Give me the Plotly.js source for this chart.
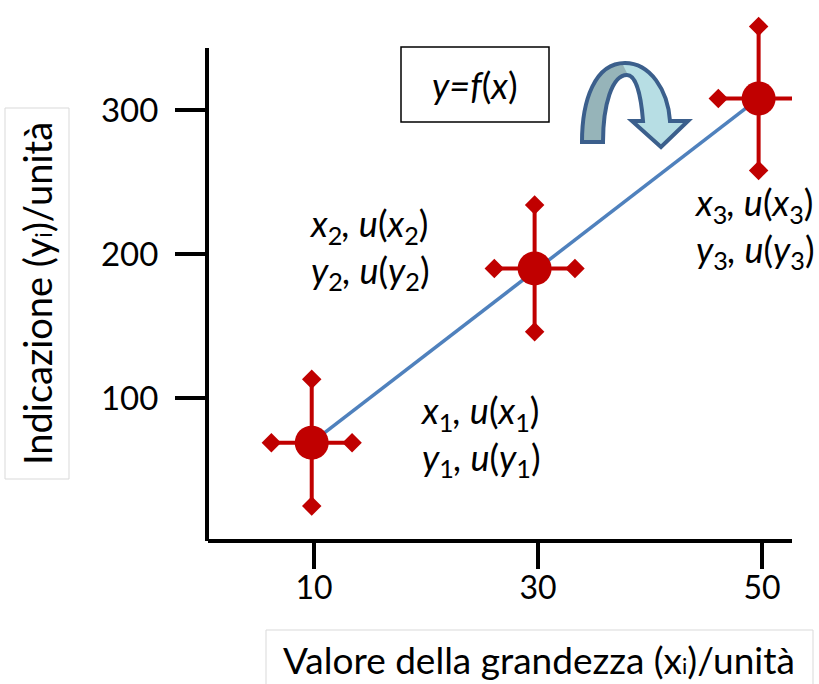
<!DOCTYPE html>
<html>
<head>
<meta charset="utf-8">
<script src="https://cdn.plot.ly/plotly-3.0.1.min.js"></script>
<style>
  html, body { margin: 0; padding: 0; background: #ffffff; }
  #chart { width: 819px; height: 684px; }
</style>
</head>
<body>
<div id="chart"></div>
<script>
// ---- data ----
const xValues = [9.8, 29.7, 49.7];        // x_i (valore della grandezza)
const yValues = [69, 190, 308];           // y_i (indicazione)
const uxValues = [3.6, 3.6, 3.6];         // u(x_i)
const uyValues = [44, 44, 50];            // u(y_i)
const xTickVals = [10, 30, 50];
const yTickVals = [100, 200, 300];
const pointLabels = [
  "<i>x</i><sub>1</sub><i>, u</i>(<i>x</i><sub>1</sub>)<br><i>y</i><sub>1</sub><i>, u</i>(<i>y</i><sub>1</sub>)",
  "<i>x</i><sub>2</sub><i>, u</i>(<i>x</i><sub>2</sub>)<br><i>y</i><sub>2</sub><i>, u</i>(<i>y</i><sub>2</sub>)",
  "<i>x</i><sub>3</sub><i>, u</i>(<i>x</i><sub>3</sub>)<br><i>y</i><sub>3</sub><i>, u</i>(<i>y</i><sub>3</sub>)"
];
const xTitle = "Valore della grandezza (x<span style=\"font-size:22px\">i</span>)/unità";
const yTitle = "Indicazione (y<span style=\"font-size:23px\">i</span>)/unità";
const funcLabel = "<i>y=f</i>(<i>x</i>)";

// ---- layout geometry ----
const W = 819, H = 684, ML = 208, MR = 27, MT = 8, MB = 145;
const PW = W - ML - MR, PH = H - MT - MB;
const px = v => (v - ML) / PW;           // pixel -> paper x
const py = v => (H - MB - v) / PH;       // pixel -> paper y
function pathFrom(cmds) {
  return cmds.map(c => {
    const l = c[0];
    const nums = [];
    for (let i = 1; i < c.length; i += 2) nums.push(px(c[i]).toFixed(5) + "," + py(c[i + 1]).toFixed(5));
    return l + nums.join(" ");
  }).join(" ");
}

const red = "#C00000";
const blue = "#4F81BD";
const fontFam = "Lato, 'Open Sans', sans-serif";

// fitted line drawn from first to last point
const lineTrace = {
  x: [xValues[0], xValues[xValues.length - 1]],
  y: [yValues[0], yValues[yValues.length - 1]],
  mode: "lines",
  line: { color: blue, width: 3.5 },
  hoverinfo: "skip",
  cliponaxis: false,
  showlegend: false
};

const pointTrace = {
  x: xValues,
  y: yValues,
  mode: "markers",
  marker: { color: red, size: 34 },
  error_x: { type: "data", array: uxValues, visible: true, color: red, thickness: 4, width: 0 },
  error_y: { type: "data", array: uyValues, visible: true, color: red, thickness: 4, width: 0 },
  cliponaxis: false,
  showlegend: false
};

const capX = [], capY = [];
xValues.forEach((x, i) => {
  capX.push(x - uxValues[i], x + uxValues[i], x, x);
  capY.push(yValues[i], yValues[i], yValues[i] - uyValues[i], yValues[i] + uyValues[i]);
});
const capTrace = {
  x: capX, y: capY, mode: "markers",
  marker: { symbol: "diamond", color: red, size: 15 },
  cliponaxis: false, hoverinfo: "skip", showlegend: false
};

// curved arrow (decoration)
const arrowOuter = pathFrom([
  ["M", 582, 142], ["C", 582, 100, 595, 63, 625, 63], ["C", 650, 63, 668, 90, 670, 121],
  ["L", 688, 121], ["L", 661, 147], ["L", 632, 121], ["L", 643, 121],
  ["C", 641, 95, 636, 75, 627, 75], ["C", 612, 75, 603, 105, 603, 142], ["Z"]
]);
const arrowLeft = pathFrom([
  ["M", 582, 142], ["C", 582, 100, 595, 63, 622, 63], ["L", 628, 75],
  ["C", 612, 75, 603, 105, 603, 142], ["Z"]
]);

// y scale: 1.44 px per unit, value 200 at pixel 254
const yTop = 200 + (254 - MT) / 1.44;
const yBottom = 200 - (H - MB - 254) / 1.44;

const layout = {
  width: W, height: H,
  margin: { l: ML, r: MR, t: MT, b: MB, pad: 0 },
  paper_bgcolor: "#ffffff",
  plot_bgcolor: "#ffffff",
  font: { family: fontFam, color: "#000000" },
  xaxis: {
    range: [0.54, 52.68],
    tickmode: "array", tickvals: xTickVals, ticktext: xTickVals.map(String),
    ticks: "outside", ticklen: 26, tickwidth: 4, tickcolor: "#000",
    ticklabelstandoff: -8,
    showline: true, linecolor: "#000", linewidth: 4,
    showgrid: false, zeroline: false,
    tickfont: { size: 32, family: fontFam, color: "#000" },
    fixedrange: true
  },
  yaxis: {
    range: [yBottom, yTop],
    tickmode: "array", tickvals: yTickVals, ticktext: yTickVals.map(String),
    ticks: "outside", ticklen: 32, tickwidth: 4, tickcolor: "#000",
    ticklabelstandoff: 10,
    showline: false,
    showgrid: false, zeroline: false,
    tickfont: { size: 33, family: fontFam, color: "#000" },
    fixedrange: true
  },
  shapes: [
    // y axis line (drawn as a shape so the plot area can extend above it)
    { type: "line", xref: "paper", yref: "paper", x0: px(207), x1: px(207), y0: py(541), y1: py(48),
      line: { color: "#000", width: 4 } },
    { type: "rect", xref: "paper", yref: "paper", x0: px(401), x1: px(549), y0: py(122), y1: py(47),
      line: { color: "#000", width: 1.5 }, fillcolor: "rgba(0,0,0,0)" },
    { type: "rect", xref: "paper", yref: "paper", x0: px(5), x1: px(69), y0: py(479), y1: py(108),
      line: { color: "#D9D9D9", width: 1 }, fillcolor: "rgba(0,0,0,0)" },
    { type: "rect", xref: "paper", yref: "paper", x0: px(266), x1: px(813), y0: py(700), y1: py(630),
      line: { color: "#D9D9D9", width: 1 }, fillcolor: "rgba(0,0,0,0)" },
    { type: "path", xref: "paper", yref: "paper", path: arrowOuter, fillcolor: "#B7DEE4", line: { width: 0 } },
    { type: "path", xref: "paper", yref: "paper", path: arrowLeft, fillcolor: "#96B4B9", line: { width: 0 } },
    { type: "path", xref: "paper", yref: "paper", path: arrowOuter, fillcolor: "rgba(0,0,0,0)",
      line: { color: "#3B5F8C", width: 4 } }
  ],
  annotations: [
    { xref: "paper", yref: "paper", x: px(480), y: py(435), xanchor: "center", yanchor: "middle",
      text: pointLabels[0], showarrow: false, align: "left", font: { size: 36, family: fontFam } },
    { xref: "paper", yref: "paper", x: px(369), y: py(248), xanchor: "center", yanchor: "middle",
      text: pointLabels[1], showarrow: false, align: "left", font: { size: 36, family: fontFam } },
    { xref: "paper", yref: "paper", x: px(754), y: py(227), xanchor: "center", yanchor: "middle",
      text: pointLabels[2], showarrow: false, align: "left", font: { size: 36, family: fontFam } },
    { xref: "paper", yref: "paper", x: px(475), y: py(85), xanchor: "center", yanchor: "middle",
      text: funcLabel, showarrow: false, font: { size: 36, family: fontFam } },
    { xref: "paper", yref: "paper", x: px(539), y: py(659), xanchor: "center", yanchor: "middle",
      text: xTitle, showarrow: false, font: { size: 37, family: fontFam } },
    { xref: "paper", yref: "paper", x: px(37), y: py(294), xanchor: "center", yanchor: "middle",
      text: yTitle, textangle: -90, showarrow: false, font: { size: 38, family: fontFam } }
  ]
};

Plotly.newPlot("chart", [lineTrace, pointTrace, capTrace], layout, { displayModeBar: false, staticPlot: true });
</script>
</body>
</html>
